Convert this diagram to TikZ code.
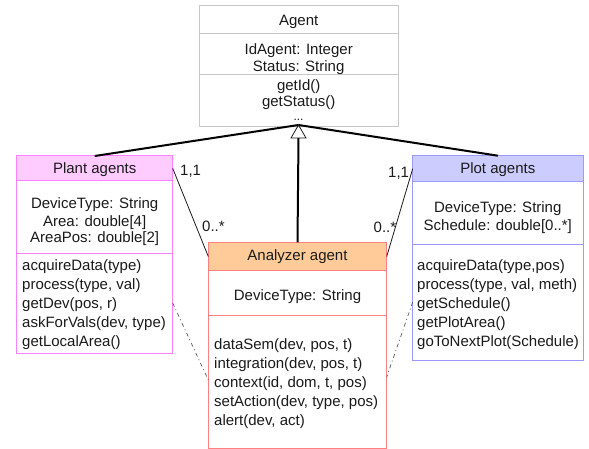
\documentclass[tikz,border=0pt]{standalone}
\usepackage{fontspec}
\setmainfont{Liberation Sans}
\definecolor{txtc}{HTML}{1A1A1A}
\definecolor{agentc}{HTML}{C8C8C8}
\definecolor{plantb}{HTML}{FF80FF}
\definecolor{plantf}{HTML}{FFCCFF}
\definecolor{plotb}{HTML}{9999FF}
\definecolor{plotf}{HTML}{CCCCFF}
\definecolor{anab}{HTML}{FF8080}
\definecolor{anaf}{HTML}{FFCC99}
\begin{document}
\begin{tikzpicture}[x=1pt,y=-1pt,
  font=\fontsize{15}{19}\selectfont,
  txt/.style={inner sep=0pt, anchor=base, text=txtc},
  mtxt/.style={inner sep=0pt, anchor=base west, text=txtc},
  umlbox/.style={draw=#1, fill=white, line width=1pt, anchor=north west, inner sep=0pt, outer sep=0pt},
  hdr/.style 2 args={draw=#1, fill=#2, line width=1pt, anchor=north west, inner sep=0pt, outer sep=0pt},
  gen/.style={line width=2pt, black},
  assoc/.style={line width=0.8pt, txtc},
  dd/.style={line width=0.7pt, black!65, dash pattern=on 4pt off 3pt on 1pt off 3pt}]
\useasboundingbox (0,0) rectangle (589,449);

% Agent
\node[umlbox=agentc, minimum width=198.7pt, minimum height=121pt] (agent) at (199.3,6) {};
\draw[agentc, line width=1pt] (agent.west |- 0,34) -- (agent.east |- 0,34);
\draw[agentc, line width=1pt] (agent.west |- 0,75) -- (agent.east |- 0,75);
\node[txt] (agentT) at (298.7,25.5) {Agent};
\node[txt] (agentA1) at (298.7,55) {IdAgent: Integer};
\node[txt] (agentA2) at (298.7,72) {Status: String};
\node[txt] (agentM1) at (298.7,90.5) {getId()};
\node[txt] (agentM2) at (298.7,106.5) {getStatus()};
\node[txt, font=\fontsize{12}{14}\selectfont] (dots) at (298.5,120.5) {...};

% Plant agents
\node[umlbox=plantb, minimum width=156pt, minimum height=197pt] (plant) at (16.7,156) {};
\node[hdr={plantb}{plantf}, minimum width=156pt, minimum height=24.7pt] (planth) at (16.7,156) {};
\draw[plantb, line width=1pt] (plant.west |- 0,253) -- (plant.east |- 0,253);
\node[txt] (plantT) at (94.7,174) {Plant agents};
\node[txt] (plantA1) at (94.7,209) {DeviceType: String};
\node[txt] (plantA2) at (94.7,226) {Area: double[4]};
\node[txt] (plantA3) at (94.7,243) {AreaPos: double[2]};
\node[mtxt] (plantM1) at (22,270) {acquireData(type)};
\node[mtxt] (plantM2) at (22,289) {process(type, val)};
\node[mtxt] (plantM3) at (22,308) {getDev(pos, r)};
\node[mtxt] (plantM4) at (22,327) {askForVals(dev, type)};
\node[mtxt] (plantM5) at (22,346) {getLocalArea()};

% Plot agents
\node[umlbox=plotb, minimum width=170.3pt, minimum height=204.3pt] (plot) at (412.7,155.7) {};
\node[hdr={plotb}{plotf}, minimum width=170.3pt, minimum height=26pt] (ploth) at (412.7,155.7) {};
\draw[plotb, line width=1pt] (plot.west |- 0,245) -- (plot.east |- 0,245);
\node[txt] (plotT) at (497.8,174) {Plot agents};
\node[txt] (plotA1) at (497.8,213) {DeviceType: String};
\node[txt] (plotA2) at (497.8,230) {Schedule: double[0..*]};
\node[mtxt] (plotM1) at (417,270) {acquireData(type,pos)};
\node[mtxt] (plotM2) at (417,289) {process(type, val, meth)};
\node[mtxt] (plotM3) at (417,308) {getSchedule()};
\node[mtxt] (plotM4) at (417,327) {getPlotArea()};
\node[mtxt] (plotM5) at (417,346) {goToNextPlot(Schedule)};

% Analyzer agent
\node[umlbox=anab, minimum width=178.4pt, minimum height=206pt] (ana) at (208.3,242.3) {};
\node[hdr={anab}{anaf}, minimum width=178.4pt, minimum height=28.4pt] (anah) at (208.3,242.3) {};
\draw[anab, line width=1pt] (ana.west |- 0,315.7) -- (ana.east |- 0,315.7);
\node[txt] (anaT) at (297.5,261) {Analyzer agent};
\node[txt] (anaA1) at (297.5,300) {DeviceType: String};
\node[mtxt] (anaM1) at (214,349.5) {dataSem(dev, pos, t)};
\node[mtxt] (anaM2) at (214,368.5) {integration(dev, pos, t)};
\node[mtxt] (anaM3) at (214,387.5) {context(id, dom, t, pos)};
\node[mtxt] (anaM4) at (214,406.5) {setAction(dev, type, pos)};
\node[mtxt] (anaM5) at (214,425.5) {alert(dev, act)};

% Generalisation
\coordinate (tip) at (298.5,125);
\coordinate (tribase) at (298.5,138);
\draw[gen] (planth.north) -- (tip);
\draw[gen] (ploth.north) -- (tip);
\draw[gen] (anah.north) -- (tribase);
\draw[line width=0.8pt, txtc] (tip) -- ++(-7.5,13) -- ++(15,0) -- cycle;

% Associations
\draw[assoc] (planth.east) -- (anah.west);
\draw[assoc] (ploth.west) -- (anah.east);
\node[mtxt] (l1) at (180,176) {1,1};
\node[mtxt] (l2) at (202,231.5) {0..*};
\node[mtxt] (l3) at (388,177.5) {1,1};
\node[mtxt] (l4) at (373.5,233) {0..*};

% Dependencies
\coordinate (pd) at (172.7,303);
\coordinate (ad1) at (208.3,380);
\coordinate (qd) at (412.7,302);
\coordinate (ad2) at (386.7,377);
\draw[dd] (pd) -- (ad1);
\draw[dd] (qd) -- (ad2);
\end{tikzpicture}
\end{document}
